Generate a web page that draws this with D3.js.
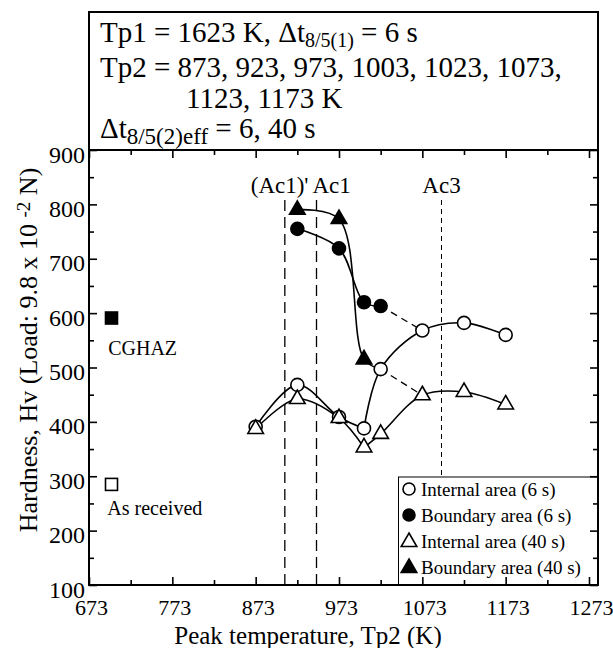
<!DOCTYPE html>
<html>
<head>
<meta charset="utf-8">
<script src="https://cdn.jsdelivr.net/npm/d3@7"></script>
<style>
body { margin: 0; background: #fff; }
svg text { font-family: "Liberation Serif", "Times New Roman", serif; fill: #000; }
</style>
</head>
<body>
<div id="chart"></div>
<script>
// values
const temps = [873, 923, 973, 1003, 1023, 1073, 1123, 1173];
const internal6 = [391, 468, 409, 388, 497, 568, 582, 560];
const internal40 = [387, 442, 407, 353, 378, 449, 455, 432];
const boundaryTemps = [923, 973, 1003, 1023];
const boundary6 = [755, 719, 620, 613];
const boundary40Temps = [923, 973, 1003];
const boundary40 = [790, 773, 515];
const refTemps = [700, 700];
const refHv = [591, 285];
const refNames = ["CGHAZ", "As received"];
const transNames = ["(Ac1)'", "Ac1", "Ac3"];
const transTemps = [908, 946, 1096];
const xTicks = [673, 773, 873, 973, 1073, 1173, 1273];
const xMinor = [723, 823, 923, 1023, 1123, 1223];
const yTicks = [100, 200, 300, 400, 500, 600, 700, 800, 900];
const yMinor = [150, 250, 350, 450, 550, 650, 750, 850];
const legendNames = ["Internal area (6 s)", "Boundary area (6 s)", "Internal area (40 s)", "Boundary area (40 s)"];

const W = 613, H = 648;
const pLeft = 89, pRight = 598, pTop = 150, pBottom = 585;

const svg = d3.select("#chart").append("svg").attr("width", W).attr("height", H)
    .attr("font-family", "Liberation Serif");

const x = d3.scaleLinear().domain([673, 1273]).range([pLeft, 589]);
const y = d3.scaleLinear().domain([100, 900]).range([pBottom, pTop]);

// text box above the plot
const box = svg.append("g");
box.append("rect").attr("x", pLeft).attr("y", 12).attr("width", pRight - pLeft).attr("height", pTop - 12)
    .attr("fill", "none").attr("stroke", "#000").attr("stroke-width", 2);
const fs = 29;
let t1 = box.append("text").attr("x", 100).attr("y", 42).attr("font-size", fs);
t1.append("tspan").text("Tp1 = 1623 K,  \u0394t");
t1.append("tspan").attr("font-size", 20).attr("dy", 5).text("8/5(1)");
t1.append("tspan").attr("dy", -5).text(" = 6 s");
box.append("text").attr("x", 100).attr("y", 77).attr("font-size", fs).text("Tp2 = 873, 923, 973, 1003, 1023, 1073,");
box.append("text").attr("x", 186).attr("y", 108).attr("font-size", fs).text("1123, 1173 K");
let t4 = box.append("text").attr("x", 100).attr("y", 138).attr("font-size", fs);
t4.append("tspan").text("\u0394t");
t4.append("tspan").attr("font-size", 23).attr("dy", 6).text("8/5(2)eff");
t4.append("tspan").attr("dy", -6).text(" = 6, 40 s");

// transformation temperature lines
transTemps.forEach((t, i) => {
    svg.append("line")
        .attr("x1", x(t)).attr("x2", x(t)).attr("y1", 200).attr("y2", pBottom)
        .attr("stroke", "#000").attr("stroke-width", i == 2 ? 1 : 1.3)
        .attr("stroke-dasharray", i == 2 ? "5,4" : "11,6");
});
svg.append("text").attr("x", x(transTemps[1]) - 8).attr("y", 193).attr("font-size", 23)
    .attr("text-anchor", "end").text(transNames[0]);
svg.append("text").attr("x", x(transTemps[1]) - 4).attr("y", 193).attr("font-size", 23)
    .text(transNames[1]);
svg.append("text").attr("x", x(transTemps[2])).attr("y", 193).attr("font-size", 23)
    .attr("text-anchor", "middle").text(transNames[2]);

// curves
const line = d3.line().x(d => x(d[0])).y(d => y(d[1])).curve(d3.curveCatmullRom.alpha(0.5));
const pairs = (ts, vs) => ts.map((t, i) => [t, vs[i]]);
const i6 = pairs(temps, internal6);
const i40 = pairs(temps, internal40);
const b6 = pairs(boundaryTemps, boundary6);
const b40 = pairs(boundary40Temps, boundary40);

const solid = [
    i6.slice(0, 4), i6.slice(3),
    i40.slice(0, 4), i40.slice(3),
    b6,
    b40.concat([i6[4]])
];
const dashed = [
    [b6[3], i6[5]],
    [i6[4], i40[5]]
];
solid.forEach(s => {
    svg.append("path").attr("d", line(s)).attr("fill", "none")
        .attr("stroke", "#000").attr("stroke-width", 1.6);
});
dashed.forEach(s => {
    svg.append("path").attr("d", d3.line().x(d => x(d[0])).y(d => y(d[1]))(s)).attr("fill", "none")
        .attr("stroke", "#000").attr("stroke-width", 1.3).attr("stroke-dasharray", "7,5");
});

// markers
const tri = d3.symbol().type(d3.symbolTriangle).size(105);
function circles(data, fill) {
    svg.append("g").selectAll("circle").data(data).join("circle")
        .attr("cx", d => x(d[0])).attr("cy", d => y(d[1])).attr("r", 6.5)
        .attr("fill", fill).attr("stroke", "#000").attr("stroke-width", 1.6);
}
function triangles(data, fill) {
    svg.append("g").selectAll("path").data(data).join("path")
        .attr("d", tri).attr("transform", d => `translate(${x(d[0])},${y(d[1])})`)
        .attr("fill", fill).attr("stroke", "#000").attr("stroke-width", 1.6);
}
circles(i6, "#fff");
triangles(i40, "#fff");
circles(b6, "#000");
triangles(b40, "#000");

// reference points
refTemps.forEach((t, i) => {
    svg.append("rect").attr("x", x(t) - 6).attr("y", y(refHv[i]) - 6).attr("width", 12).attr("height", 12)
        .attr("fill", i == 0 ? "#000" : "#fff").attr("stroke", "#000").attr("stroke-width", 1.6);
});
svg.append("text").attr("x", x(696)).attr("y", y(523)).attr("font-size", 20).text(refNames[0]);
svg.append("text").attr("x", x(695)).attr("y", y(229)).attr("font-size", 20).text(refNames[1]);

// legend
const lg = svg.append("g");
lg.append("rect").attr("x", 398.5).attr("y", 477).attr("width", pRight - 398.5).attr("height", pBottom - 477)
    .attr("fill", "#fff").attr("stroke", "#000").attr("stroke-width", 1);
legendNames.forEach((n, i) => {
    const ly = 496 + i * 26;
    const fill = i % 2 == 0 ? "#fff" : "#000";
    if (i < 2) {
        lg.append("circle").attr("cx", 409).attr("cy", ly - 7).attr("r", 6).attr("fill", fill)
            .attr("stroke", "#000").attr("stroke-width", 1.6);
    } else {
        lg.append("path").attr("d", tri).attr("transform", `translate(409,${ly - 6})`).attr("fill", fill)
            .attr("stroke", "#000").attr("stroke-width", 1.6);
    }
    lg.append("text").attr("x", 421).attr("y", ly).attr("font-size", 19).text(n);
});

// axes with inward ticks
function axisG(axis) {
    const g = svg.append("g").call(axis);
    g.select(".domain").remove();
    g.attr("font-family", "Liberation Serif");
    g.selectAll("line").attr("stroke-width", 1.6);
    return g;
}
const gx = axisG(d3.axisBottom(x).tickValues(xTicks).tickSize(-8).tickPadding(14).tickFormat(d3.format("d")))
    .attr("transform", `translate(0,${pBottom})`);
gx.selectAll("text").attr("font-size", 22).attr("dx", 2);
axisG(d3.axisBottom(x).tickValues(xMinor).tickSize(-5).tickFormat("")).attr("transform", `translate(0,${pBottom})`);
axisG(d3.axisTop(x).tickValues(xTicks).tickSize(-8).tickFormat("")).attr("transform", `translate(0,${pTop})`);
axisG(d3.axisTop(x).tickValues(xMinor).tickSize(-5).tickFormat("")).attr("transform", `translate(0,${pTop})`);

const gy = axisG(d3.axisLeft(y).tickValues(yTicks).tickSize(-8).tickPadding(4).tickFormat(d3.format("d")))
    .attr("transform", `translate(${pLeft},0)`);
gy.selectAll("text").attr("font-size", 24).attr("dy", "0.5em");
axisG(d3.axisLeft(y).tickValues(yMinor).tickSize(-5).tickFormat("")).attr("transform", `translate(${pLeft},0)`);
axisG(d3.axisRight(y).tickValues(yTicks).tickSize(-8).tickFormat("")).attr("transform", `translate(${pRight},0)`);
axisG(d3.axisRight(y).tickValues(yMinor).tickSize(-5).tickFormat("")).attr("transform", `translate(${pRight},0)`);

svg.append("rect").attr("x", pLeft).attr("y", pTop).attr("width", pRight - pLeft).attr("height", pBottom - pTop)
    .attr("fill", "none").attr("stroke", "#000").attr("stroke-width", 2);

// axis titles
let xt = svg.append("text").attr("x", 308).attr("y", 644).attr("font-size", 25).attr("text-anchor", "middle");
xt.text("Peak temperature, Tp2  (K)");
let yt = svg.append("text").attr("transform", "translate(37,350) rotate(-90)").attr("font-size", 26)
    .attr("text-anchor", "middle");
yt.append("tspan").text("Hardness, Hv  (Load: 9.8 x 10 ");
yt.append("tspan").attr("font-size", 19).attr("dy", -7).text("-2");
yt.append("tspan").attr("dy", 7).text(" N)");
</script>
</body>
</html>
